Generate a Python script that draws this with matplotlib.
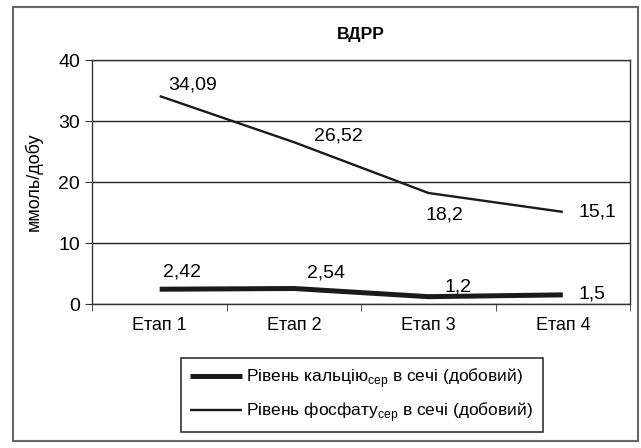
import matplotlib
matplotlib.use("Agg")
import matplotlib.pyplot as plt
from matplotlib.patches import Rectangle

fam = "Liberation Sans"
plt.rcParams['font.family'] = [fam, 'DejaVu Sans']
plt.rcParams['mathtext.fontset'] = 'custom'
plt.rcParams['mathtext.rm'] = fam

categories = ["Етап 1", "Етап 2", "Етап 3", "Етап 4"]
calcium = [2.42, 2.54, 1.2, 1.5]
phosphate = [34.09, 26.52, 18.2, 15.1]
calcium_labels = ["2,42", "2,54", "1,2", "1,5"]
phosphate_labels = ["34,09", "26,52", "18,2", "15,1"]
yticks = [0, 10, 20, 30, 40]

# label offsets in pixels: (dx of left edge, dy up of centre)
ph_off = [(9, 11), (20, 6), (-3, -22), (16, 0)]
ca_off = [(3, 17), (13, 16), (16, 10), (16, 1)]

W, H = 641, 448
fig = plt.figure(figsize=(W/100, H/100), dpi=100)
fig.patches.append(Rectangle((13/W, 1-441/H), 625/W, 434/H, transform=fig.transFigure,
                             fill=False, edgecolor='#666666', linewidth=1.5))
ax = fig.add_axes([92.5/W, 1-304/H, 537.5/W, 244/H])
x = [i + 0.5 for i in range(len(categories))]
l1, = ax.plot(x, calcium, color='#1a1a1a', linewidth=3.6, solid_capstyle='butt',
              label='Рівень кальцію$_{\\mathregular{сер}}$ в сечі (добовий)')
l2, = ax.plot(x, phosphate, color='#1a1a1a', linewidth=1.7, solid_capstyle='butt',
              label='Рівень фосфату$_{\\mathregular{сер}}$ в сечі (добовий)')
ax.set_xlim(0, 4)
ax.set_ylim(0, 40)
ax.set_yticks(yticks)
ax.set_yticklabels([str(v) for v in yticks], fontsize=14)
ax.set_xticks(x)
ax.set_xticklabels(categories, fontsize=13)
ax.set_xticks(range(5), minor=True)
ax.tick_params(axis='x', which='major', length=0, pad=9)
ax.tick_params(axis='x', which='minor', length=5, direction='out', color='#333333')
ax.tick_params(axis='y', length=5, direction='out', color='#333333', pad=4)
ax.grid(axis='y', color='#222222', linewidth=1.0)
for s in ax.spines.values():
    s.set_color('#333333')
    s.set_linewidth(1.0)
ax.set_ylabel('ммоль/добу', fontsize=13, labelpad=11)
ax.set_title('ВДРР', fontsize=12.5, fontweight='bold', pad=15)

k = 72 / 100
for series, labels, offs in ((phosphate, phosphate_labels, ph_off),
                             (calcium, calcium_labels, ca_off)):
    for xi, v, lab, (dx, dy) in zip(x, series, labels, offs):
        ax.annotate(lab, (xi, v), xytext=(dx*k, dy*k), textcoords='offset points',
                    ha='left', va='center', fontsize=14)

leg = fig.legend(handles=[l1, l2], loc='center',
                 bbox_to_anchor=(181/W, 1-429/H, 362/W, 68/H), mode='expand',
                 fancybox=False, edgecolor='#333333', framealpha=1, fontsize=12.5,
                 handlelength=3.0, handletextpad=0.25, labelspacing=0.55,
                 borderpad=0.5, borderaxespad=0)
leg.get_frame().set_linewidth(1.2)
fig.savefig('out.png', dpi=100)
